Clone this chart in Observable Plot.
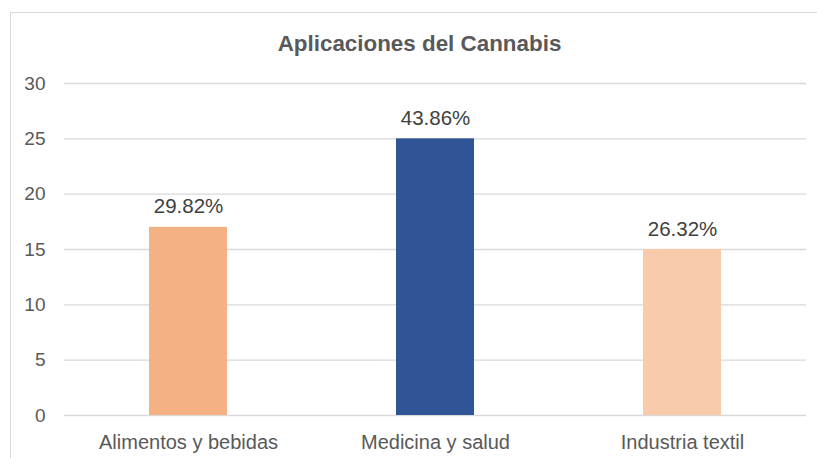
<!DOCTYPE html>
<html>
<head>
<meta charset="utf-8">
<script src="https://cdn.jsdelivr.net/npm/d3@7"></script>
<script src="https://cdn.jsdelivr.net/npm/@observablehq/plot@0.6"></script>
<style>
  html, body { margin: 0; padding: 0; background: #fff; overflow: hidden; }
  #wrap { position: relative; width: 817px; height: 458px; font-family: "Liberation Sans", Arial, sans-serif; }
  #frame { position: absolute; left: 10px; top: 12px; width: 830px; height: 470px; border: 1px solid #d9d9d9; box-sizing: border-box; }
  #title { position: absolute; left: 0; width: 839px; top: 33px; line-height: 1; text-align: center; font-size: 22.4px; font-weight: bold; color: #595959; }
  #chart { position: absolute; left: 0; top: 0; }
</style>
</head>
<body>
<div id="wrap">
  <div id="frame"></div>
  <div id="title">Aplicaciones del Cannabis</div>
  <div id="chart"></div>
</div>
<script>
const categories = ["Alimentos y bebidas", "Medicina y salud", "Industria textil"];
const values = [17, 25, 15];
const labels = ["29.82%", "43.86%", "26.32%"];
const colors = ["#F4B183", "#2F5597", "#F8CBAD"];
const yTicks = [0, 5, 10, 15, 20, 25, 30];

const data = categories.map((c, i) => ({category: c, value: values[i], label: labels[i], color: colors[i]}));

const plot = Plot.plot({
  width: 817,
  height: 458,
  marginLeft: 64,
  marginRight: 11,
  marginTop: 83,
  marginBottom: 43,
  style: {fontFamily: "'Liberation Sans', Arial, sans-serif", fontSize: "19px", color: "#595959", background: "transparent"},
  x: {domain: categories, paddingInner: 0.684, paddingOuter: 0.344, label: null},
  y: {domain: [0, 30], label: null},
  marks: [
    Plot.gridY(yTicks, {stroke: "#d9d9d9", strokeOpacity: 1, strokeWidth: 1.3}),
    Plot.axisY(yTicks, {tickSize: 0, tickPadding: 19, fontSize: 19, fill: "#595959", label: null}),
    Plot.axisX({tickSize: 0, tickPadding: 19, fontSize: 20, fill: "#595959", label: null}),
    Plot.barY(data, {x: "category", y: "value", fill: "color"}),
    Plot.text(data, {x: "category", y: "value", text: "label", lineAnchor: "bottom", dy: -14, fontSize: 20.5, fill: "#404040"})
  ]
});
document.getElementById("chart").appendChild(plot);
</script>
</body>
</html>
